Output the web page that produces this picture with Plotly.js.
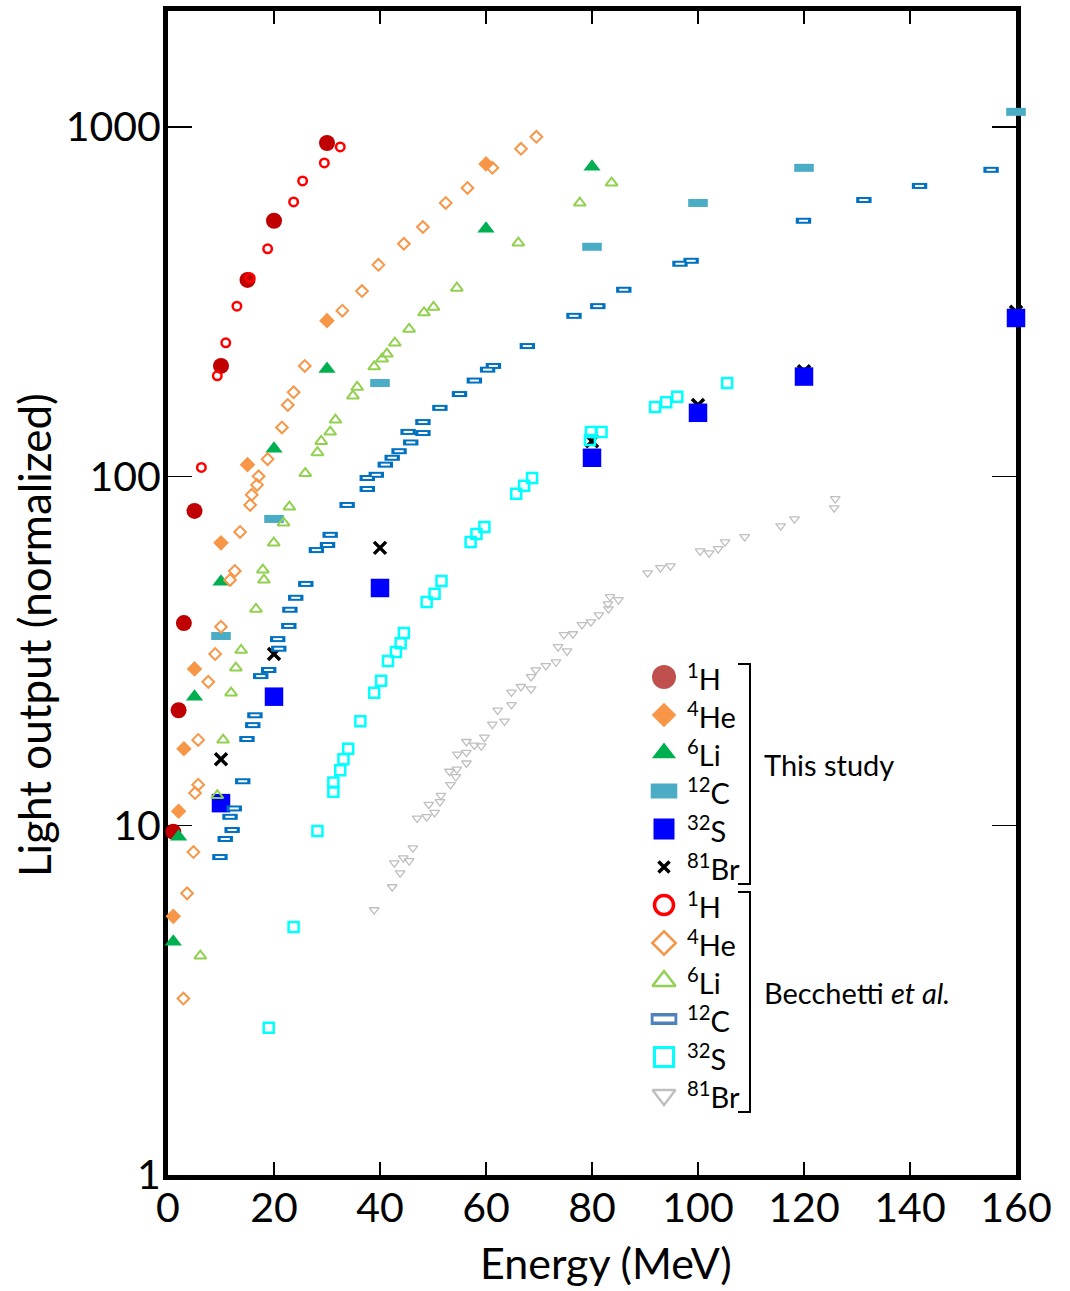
<!DOCTYPE html>
<html>
<head>
<meta charset="utf-8">
<script src="https://cdn.plot.ly/plotly-3.0.1.min.js"></script>
<style>
html, body { margin: 0; padding: 0; background: #ffffff; }
#chart { width: 1070px; height: 1291px; }
</style>
</head>
<body>
<div id="chart"></div>
<script>
// ---- This study ----
const hThisE  = [1, 2, 3, 5, 10, 15, 20, 30];
const hThisL  = [9.6, 21.4, 38, 79.6, 207, 365, 539, 900];
const heThisE = [1, 2, 3, 5, 10, 15, 30, 60];
const heThisL = [5.5, 11.0, 16.6, 28.1, 64.5, 108, 279, 784];
const liThisE = [1, 2, 5, 10, 20, 30, 60, 80];
const liThisL = [4.65, 9.3, 23.4, 49.9, 120, 203, 511, 769];
const cThisE  = [10, 20, 40, 80, 100, 120, 160];
const cThisL  = [34.9, 75.5, 185, 454, 606, 764, 1105];
const sThisE  = [10, 20, 40, 80, 100, 120, 160];
const sThisL  = [11.6, 23.4, 47.9, 113, 152, 193, 284];
const brThisE = [10, 20, 40, 80, 100, 120, 160];
const brThisL = [15.5, 31.0, 62.4, 126, 160, 200, 296];

// ---- Becchetti et al. ----
const hBecE  = [6.3, 9.3, 10.9, 13.0, 15.5, 18.8, 23.7, 25.4, 29.5, 32.5];
const hBecL  = [106, 194, 241, 307, 370, 448, 610, 701, 789, 877];
const heBecE = [2.9, 3.6, 4.8, 5.1, 5.7, 5.7, 7.6, 8.9, 10.0, 11.7, 12.6, 13.6, 15.5, 15.8, 16.8, 17.1,
                18.8, 21.5, 22.6, 23.7, 25.8, 32.9, 36.6, 39.7, 44.5, 48.1, 52.4, 56.5, 61.2, 66.6, 69.5];
const heBecL = [3.2, 6.4, 8.4, 12.4, 13.1, 17.6, 25.8, 31.0, 37.1, 50.5, 53.6, 69.3, 82.8, 88.5, 94.5, 100,
                112, 138, 160, 174, 207, 298, 339, 403, 463, 517, 606, 669, 764, 866, 937];
const liBecE = [6.1, 9.3, 10.4, 11.9, 12.8, 13.8, 16.6, 17.9, 18.1, 19.95, 21.8, 22.9, 25.9, 28.2, 28.9,
                30.6, 31.6, 34.9, 35.7, 38.9, 40.4, 41.3, 42.8, 45.5, 48.3, 50.1, 54.5, 66.1, 77.7, 83.7];
const liBecL = [4.24, 12.2, 17.6, 24.0, 28.3, 31.8, 41.7, 54.0, 50.5, 64.5, 73.6, 81.7, 102, 117, 126,
                134, 145, 170, 180, 206, 217, 224, 241, 264, 294, 305, 346, 466, 606, 692];
const cBecE  = [9.8, 10.8, 12.1, 11.7, 12.5, 14.1, 14.9, 16.0, 16.4, 17.5, 19.0, 20.9, 20.7, 22.8, 23.0,
                24.1, 26.0, 28.0, 30.1, 30.6, 33.8, 37.6, 37.6, 39.3, 41.0, 42.3, 43.6, 45.8, 48.1, 45.3,
                48.1, 51.3, 55.0, 57.8, 60.3, 61.4, 67.8, 76.6, 81.1, 86.0, 96.6, 98.7, 119.9, 131.3,
                141.8, 155.3];
const cBecL  = [8.13, 9.16, 9.72, 10.6, 11.2, 13.4, 17.7, 19.4, 20.7, 26.8, 27.9, 32.1, 34.2, 37.3, 41.5,
                44.9, 49.2, 61.5, 63.6, 68.0, 82.8, 92.0, 98.9, 101, 108, 113, 118, 125, 133, 134,
                143, 157, 172, 188, 202, 207, 236, 288, 307, 342, 406, 414, 539, 618,
                678, 754];
const sBecE  = [19.0, 23.7, 28.2, 31.2, 31.2, 32.5, 33.1, 34.0, 36.3, 38.9, 40.2, 41.5, 43.0, 43.9, 44.5,
                48.8, 50.3, 51.6, 57.1, 58.2, 59.7, 65.7, 67.2, 68.7, 79.6, 79.8, 81.8, 91.9, 94.0, 96.1, 105.5];
const sBecL  = [2.64, 5.13, 9.66, 12.5, 13.3, 14.4, 15.5, 16.6, 19.9, 24.0, 26.0, 29.6, 31.4, 33.3, 35.6,
                43.7, 46.1, 50.2, 64.9, 68.4, 71.6, 89.1, 93.9, 98.9, 127, 134, 134, 158, 163, 169, 185];
const brBecE = [38.9, 42.3, 43.8, 42.7, 45.5, 44.4, 46.2, 47.0, 48.8, 50.3, 49.2, 51.3, 51.5, 53.3, 54.3,
                53.1, 54.5, 56.3, 54.6, 56.3, 56.3, 57.8, 59.1, 59.7, 61.2, 63.5, 62.2, 64.8, 64.8, 66.6,
                68.5, 68.5, 69.4, 71.3, 73.2, 73.6, 75.3, 74.7, 76.4, 78.1, 79.8, 81.3, 83.1, 83.0, 83.4,
                85.0, 90.5, 92.9, 94.8, 100.4, 102.1, 103.8, 105.1, 108.8, 115.6, 118.2, 125.7, 125.9];
const brBecL = [5.74, 6.68, 7.32, 7.82, 7.93, 8.08, 8.63, 10.5, 10.6, 10.9, 11.5, 11.7, 12.2, 13.1, 13.8,
                14.3, 14.5, 15.1, 16.0, 16.2, 17.4, 17.0, 16.9, 17.9, 19.5, 19.9, 21.4, 22.2, 24.1, 25.0,
                24.6, 26.7, 27.9, 28.7, 29.4, 32.5, 31.6, 35.2, 35.4, 37.6, 38.3, 40.1, 41.7, 43.1, 45.2,
                44.3, 52.9, 54.7, 55.4, 61.1, 60.3, 62.0, 64.9, 67.1, 72.1, 75.5, 81.2, 86.2];

// ---- Axis ticks, titles and legend text ----
const xTickVals = [0, 20, 40, 60, 80, 100, 120, 140, 160];
const yTickVals = [1, 10, 100, 1000];
const yTickText = ['1', '10', '100', '1000'];
const xTitle = 'Energy (MeV)';
const yTitle = 'Light output (normalized)';
const legendLabels = ['<sup>1</sup>H', '<sup>4</sup>He', '<sup>6</sup>Li', '<sup>12</sup>C', '<sup>32</sup>S', '<sup>81</sup>Br',
                      '<sup>1</sup>H', '<sup>4</sup>He', '<sup>6</sup>Li', '<sup>12</sup>C', '<sup>32</sup>S', '<sup>81</sup>Br'];
const groupLabels = ['This study', 'Becchetti <i>et al.</i>'];

const FONT = 'Lato, "Open Sans", sans-serif';

// Marker styles
const ST = {
  hThis:  {symbol: 'circle', size: 16, color: '#C00000', line: {width: 0}},
  heThis: {symbol: 'diamond', size: 12, color: '#F79646', line: {width: 0}},
  liThis: {symbol: 'triangle-up', size: 15, color: '#00B050', line: {width: 0}},
  cThis:  {symbol: 'line-ew', size: 14, color: '#4BACC6', line: {width: 8, color: '#4BACC6'}},
  sThis:  {symbol: 'square', size: 18.5, color: '#0000FF', line: {width: 0}},
  brThis: {symbol: 'x-thin', size: 12, color: '#000000', line: {width: 3.5, color: '#000000'}},
  hBec:   {symbol: 'circle-open', size: 8.5, color: '#FF0000', line: {width: 2.5, color: '#FF0000'}},
  heBec:  {symbol: 'diamond-open', size: 9, color: '#F79646', line: {width: 2, color: '#F79646'}},
  liBec:  {symbol: 'triangle-up-open', size: 10.5, color: '#92D050', line: {width: 2, color: '#92D050'}},
  cBec:   {symbol: 'line-ew', size: 11, color: '#0070C0', line: {width: 6, color: '#0070C0'}},
  cBecIn: {symbol: 'line-ew', size: 6.5, color: '#FFFFFF', line: {width: 2, color: '#FFFFFF'}},
  sBec:   {symbol: 'square-open', size: 10, color: '#00FFFF', line: {width: 2.5, color: '#00FFFF'}},
  brBec:  {symbol: 'triangle-down-open', size: 8.5, color: '#BFBFBF', line: {width: 1.3, color: '#BFBFBF'}}
};

function series(x, y, marker, xa, ya) {
  return {
    type: 'scatter', mode: 'markers', x: x, y: y, marker: marker,
    cliponaxis: false, showlegend: false, hoverinfo: 'skip',
    xaxis: xa || 'x', yaxis: ya || 'y'
  };
}

const traces = [
  series(brThisE, brThisL, ST.brThis),
  series(hThisE, hThisL, ST.hThis),
  series(heThisE, heThisL, ST.heThis),
  series(liThisE, liThisL, ST.liThis),
  series(cThisE, cThisL, ST.cThis),
  series(sThisE, sThisL, ST.sThis),
  series(brBecE, brBecL, ST.brBec),
  series(sBecE, sBecL, ST.sBec),
  series(cBecE, cBecL, ST.cBec),
  series(cBecE, cBecL, ST.cBecIn),
  series(liBecE, liBecL, ST.liBec),
  series(heBecE, heBecL, ST.heBec),
  series(hBecE, hBecL, ST.hBec)
];

// ---- Legend block, placed on a hidden pixel-scaled overlay axis ----
const PLOT = {left: 168, right: 1016, top: 11, bottom: 1175};
const LEG = {symX: 664, textX: 685, row0: 677, step: 38, brX: 750, brTick: 12, groupX: 762};
const legendMarkers = [
  {symbol: 'circle', size: 24, color: '#C0504D', line: {width: 0}},
  {symbol: 'diamond', size: 19, color: '#F79646', line: {width: 0}},
  {symbol: 'triangle-up', size: 21, color: '#00B050', line: {width: 0}},
  {symbol: 'line-ew', size: 19, color: '#4BACC6', line: {width: 15, color: '#4BACC6'}},
  {symbol: 'square', size: 21, color: '#0000FF', line: {width: 0}},
  {symbol: 'x-thin', size: 11, color: '#000000', line: {width: 3.5, color: '#000000'}},
  {symbol: 'circle-open', size: 19, color: '#FF0000', line: {width: 3.5, color: '#FF0000'}},
  {symbol: 'diamond-open', size: 18, color: '#F79646', line: {width: 2.5, color: '#F79646'}},
  {symbol: 'triangle-up-open', size: 20, color: '#92D050', line: {width: 2.5, color: '#92D050'}},
  {symbol: 'line-ew', size: 19, color: '#4F81BD', line: {width: 12, color: '#4F81BD'}},
  {symbol: 'square-open', size: 19, color: '#00FFFF', line: {width: 3, color: '#00FFFF'}},
  {symbol: 'triangle-down-open', size: 20, color: '#BFBFBF', line: {width: 2.5, color: '#BFBFBF'}}
];
const rowY = i => LEG.row0 + i * LEG.step;
legendMarkers.forEach((m, i) => {
  traces.push(series([LEG.symX], [rowY(i)], m, 'x2', 'y2'));
});
// white core of the open 12C legend rectangle
traces.push(series([LEG.symX], [rowY(9)], {symbol: 'line-ew', size: 15, color: '#FFFFFF', line: {width: 5, color: '#FFFFFF'}}, 'x2', 'y2'));

const annotations = legendLabels.map((t, i) => ({
  xref: 'x2', yref: 'y2', x: LEG.textX, y: rowY(i), text: t, showarrow: false,
  xanchor: 'left', yanchor: 'middle', font: {family: FONT, size: 29, color: '#000000'}
}));
const groupRows = [[0, 5], [6, 11]];
const shapes = [];
groupRows.forEach((g, k) => {
  const y0 = rowY(g[0]) - 13, y1 = rowY(g[1]) + 17;
  shapes.push({
    type: 'path', xref: 'x2', yref: 'y2',
    path: `M ${LEG.brX - LEG.brTick},${y0} H ${LEG.brX} V ${y1} H ${LEG.brX - LEG.brTick}`,
    line: {color: '#000000', width: 2}
  });
  annotations.push({
    xref: 'x2', yref: 'y2', x: LEG.groupX, y: (y0 + y1) / 2 - 10, text: groupLabels[k], showarrow: false,
    xanchor: 'left', yanchor: 'middle', font: {family: FONT, size: 29, color: '#000000'}
  });
});

// axis titles, positioned in paper fractions from pixel offsets
const pxX = px => (px - PLOT.left) / (PLOT.right - PLOT.left);
const pxY = py => (PLOT.bottom - py) / (PLOT.bottom - PLOT.top);
annotations.push({
  xref: 'paper', yref: 'paper', x: pxX(606), y: pxY(1262), text: xTitle, showarrow: false,
  xanchor: 'center', yanchor: 'middle', font: {family: FONT, size: 43, color: '#000000'}
});
annotations.push({
  xref: 'paper', yref: 'paper', x: pxX(34), y: pxY(635), text: yTitle, showarrow: false, textangle: -90,
  xanchor: 'center', yanchor: 'middle', font: {family: FONT, size: 44, color: '#000000'}
});

const axisCommon = {
  showline: true, linecolor: '#000000', linewidth: 5, mirror: 'ticks',
  ticks: 'inside', tickcolor: '#000000', tickwidth: 1.5,
  showgrid: false, zeroline: false, layer: 'below traces',
  tickfont: {family: FONT, size: 41, color: '#000000'},
  automargin: false
};

const layout = {
  width: 1070, height: 1291,
  paper_bgcolor: '#ffffff', plot_bgcolor: '#ffffff',
  margin: {l: PLOT.left, r: 1070 - PLOT.right, t: PLOT.top, b: 1291 - PLOT.bottom},
  font: {family: FONT, color: '#000000'},
  xaxis: Object.assign({}, axisCommon, {
    range: [0, 160], tickvals: xTickVals, ticklen: 13, ticklabelstandoff: -7
  }),
  yaxis: Object.assign({}, axisCommon, {
    type: 'log', range: [0, 3.332], tickvals: yTickVals, ticktext: yTickText, ticklen: 24,
    ticklabelstandoff: -6
  }),
  xaxis2: {overlaying: 'x', anchor: 'y2', range: [PLOT.left, PLOT.right], visible: false, fixedrange: true},
  yaxis2: {overlaying: 'y', anchor: 'x2', range: [PLOT.bottom, PLOT.top], visible: false, fixedrange: true},
  annotations: annotations,
  shapes: shapes,
  showlegend: false
};

Plotly.newPlot('chart', traces, layout, {staticPlot: true, displayModeBar: false});
</script>
</body>
</html>
